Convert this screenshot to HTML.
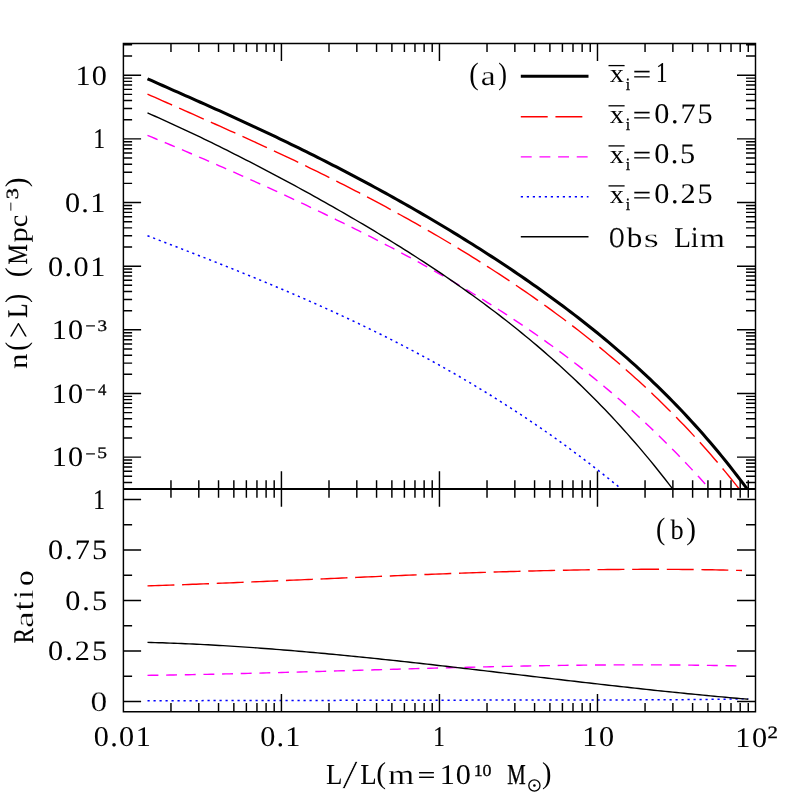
<!DOCTYPE html>
<html lang="en"><head><meta charset="utf-8"><title>n(&gt;L) vs L</title>
<style>html,body{margin:0;padding:0;background:#fff}svg{display:block}text{font-family:"Liberation Serif",serif}</style></head>
<body>
<svg width="797" height="797" viewBox="0 0 797 797">
<rect width="797" height="797" fill="#fff"/>
<g fill="none" stroke-linecap="butt" stroke-linejoin="round">
<path d="M147.50 235.76 L151.28 237.21 L155.06 238.66 L158.84 240.10 L162.61 241.55 L166.39 243.00 L170.17 244.46 L173.95 245.91 L177.73 247.37 L181.51 248.83 L185.29 250.29 L189.06 251.76 L192.84 253.22 L196.62 254.70 L200.40 256.17 L204.18 257.65 L207.96 259.13 L211.74 260.62 L215.52 262.11 L219.29 263.60 L223.07 265.10 L226.85 266.61 L230.63 268.12 L234.41 269.63 L238.19 271.15 L241.97 272.68 L245.74 274.21 L249.52 275.75 L253.30 277.29 L257.08 278.84 L260.86 280.40 L264.64 281.96 L268.42 283.53 L272.19 285.11 L275.97 286.69 L279.75 288.29 L283.53 289.89 L287.31 291.50 L291.09 293.11 L294.87 294.74 L298.64 296.37 L302.42 298.01 L306.20 299.67 L309.98 301.33 L313.76 303.00 L317.54 304.68 L321.32 306.37 L325.09 308.06 L328.87 309.77 L332.65 311.49 L336.43 313.23 L340.21 314.97 L343.99 316.72 L347.77 318.48 L351.55 320.26 L355.32 322.04 L359.10 323.84 L362.88 325.65 L366.66 327.48 L370.44 329.31 L374.22 331.16 L378.00 333.02 L381.77 334.89 L385.55 336.78 L389.33 338.68 L393.11 340.59 L396.89 342.52 L400.67 344.46 L404.45 346.41 L408.22 348.38 L412.00 350.37 L415.78 352.37 L419.56 354.38 L423.34 356.41 L427.12 358.45 L430.90 360.51 L434.67 362.59 L438.45 364.68 L442.23 366.79 L446.01 368.91 L449.79 371.05 L453.57 373.21 L457.35 375.38 L461.13 377.57 L464.90 379.78 L468.68 382.01 L472.46 384.25 L476.24 386.52 L480.02 388.80 L483.80 391.09 L487.58 393.41 L491.35 395.75 L495.13 398.10 L498.91 400.48 L502.69 402.87 L506.47 405.28 L510.25 407.71 L514.03 410.17 L517.80 412.64 L521.58 415.13 L525.36 417.64 L529.14 420.18 L532.92 422.73 L536.70 425.31 L540.48 427.91 L544.25 430.53 L548.03 433.17 L551.81 435.83 L555.59 438.51 L559.37 441.22 L563.15 443.95 L566.93 446.70 L570.71 449.48 L574.48 452.28 L578.26 455.10 L582.04 457.94 L585.82 460.81 L589.60 463.70 L593.38 466.62 L597.16 469.56 L600.93 472.53 L604.71 475.52 L608.49 478.53 L612.27 481.57 L616.05 484.64 L619.83 487.73 L621.31 488.95" stroke="#0000ff" stroke-width="1.5" stroke-dasharray="2.2 3.8"/>
<path d="M147.50 135.37 L151.28 136.93 L155.06 138.49 L158.84 140.05 L162.61 141.62 L166.39 143.19 L170.17 144.77 L173.95 146.36 L177.73 147.95 L181.51 149.55 L185.29 151.15 L189.06 152.75 L192.84 154.36 L196.62 155.98 L200.40 157.60 L204.18 159.23 L207.96 160.86 L211.74 162.50 L215.52 164.14 L219.29 165.79 L223.07 167.44 L226.85 169.10 L230.63 170.77 L234.41 172.43 L238.19 174.11 L241.97 175.79 L245.74 177.47 L249.52 179.16 L253.30 180.86 L257.08 182.56 L260.86 184.27 L264.64 185.98 L268.42 187.70 L272.19 189.43 L275.97 191.16 L279.75 192.89 L283.53 194.64 L287.31 196.39 L291.09 198.14 L294.87 199.90 L298.64 201.67 L302.42 203.45 L306.20 205.23 L309.98 207.02 L313.76 208.82 L317.54 210.62 L321.32 212.43 L325.09 214.25 L328.87 216.08 L332.65 217.91 L336.43 219.76 L340.21 221.61 L343.99 223.47 L347.77 225.33 L351.55 227.21 L355.32 229.10 L359.10 230.99 L362.88 232.89 L366.66 234.81 L370.44 236.73 L374.22 238.66 L378.00 240.61 L381.77 242.56 L385.55 244.53 L389.33 246.50 L393.11 248.49 L396.89 250.48 L400.67 252.49 L404.45 254.52 L408.22 256.55 L412.00 258.59 L415.78 260.65 L419.56 262.72 L423.34 264.81 L427.12 266.91 L430.90 269.02 L434.67 271.14 L438.45 273.28 L442.23 275.44 L446.01 277.61 L449.79 279.79 L453.57 281.99 L457.35 284.21 L461.13 286.44 L464.90 288.69 L468.68 290.95 L472.46 293.24 L476.24 295.54 L480.02 297.85 L483.80 300.19 L487.58 302.55 L491.35 304.92 L495.13 307.31 L498.91 309.73 L502.69 312.16 L506.47 314.61 L510.25 317.09 L514.03 319.58 L517.80 322.10 L521.58 324.64 L525.36 327.20 L529.14 329.78 L532.92 332.39 L536.70 335.02 L540.48 337.68 L544.25 340.36 L548.03 343.06 L551.81 345.79 L555.59 348.55 L559.37 351.33 L563.15 354.14 L566.93 356.98 L570.71 359.84 L574.48 362.73 L578.26 365.66 L582.04 368.61 L585.82 371.59 L589.60 374.60 L593.38 377.64 L597.16 380.71 L600.93 383.81 L604.71 386.94 L608.49 390.11 L612.27 393.31 L616.05 396.55 L619.83 399.82 L623.61 403.12 L627.38 406.46 L631.16 409.83 L634.94 413.24 L638.72 416.69 L642.50 420.17 L646.28 423.70 L650.06 427.26 L653.83 430.86 L657.61 434.50 L661.39 438.18 L665.17 441.90 L668.95 445.66 L672.73 449.46 L676.51 453.31 L680.28 457.20 L684.06 461.14 L687.84 465.11 L691.62 469.14 L695.40 473.21 L699.18 477.32 L702.96 481.49 L706.74 485.70 L709.62 488.95" stroke="#ff00ff" stroke-width="1.4" stroke-dasharray="10.9 7.75"/>
<path d="M147.50 112.92 L151.28 114.58 L155.06 116.24 L158.84 117.92 L162.61 119.62 L166.39 121.32 L170.17 123.04 L173.95 124.78 L177.73 126.52 L181.51 128.28 L185.29 130.05 L189.06 131.83 L192.84 133.62 L196.62 135.42 L200.40 137.23 L204.18 139.06 L207.96 140.89 L211.74 142.74 L215.52 144.59 L219.29 146.46 L223.07 148.33 L226.85 150.22 L230.63 152.11 L234.41 154.01 L238.19 155.93 L241.97 157.85 L245.74 159.78 L249.52 161.72 L253.30 163.67 L257.08 165.63 L260.86 167.60 L264.64 169.57 L268.42 171.56 L272.19 173.55 L275.97 175.56 L279.75 177.57 L283.53 179.59 L287.31 181.62 L291.09 183.66 L294.87 185.70 L298.64 187.76 L302.42 189.83 L306.20 191.90 L309.98 193.98 L313.76 196.08 L317.54 198.18 L321.32 200.29 L325.09 202.42 L328.87 204.55 L332.65 206.69 L336.43 208.84 L340.21 211.01 L343.99 213.18 L347.77 215.36 L351.55 217.56 L355.32 219.76 L359.10 221.98 L362.88 224.21 L366.66 226.45 L370.44 228.70 L374.22 230.97 L378.00 233.24 L381.77 235.53 L385.55 237.84 L389.33 240.15 L393.11 242.49 L396.89 244.83 L400.67 247.19 L404.45 249.56 L408.22 251.95 L412.00 254.36 L415.78 256.78 L419.56 259.22 L423.34 261.67 L427.12 264.14 L430.90 266.63 L434.67 269.13 L438.45 271.66 L442.23 274.20 L446.01 276.76 L449.79 279.34 L453.57 281.95 L457.35 284.57 L461.13 287.21 L464.90 289.88 L468.68 292.57 L472.46 295.28 L476.24 298.01 L480.02 300.77 L483.80 303.55 L487.58 306.36 L491.35 309.19 L495.13 312.05 L498.91 314.93 L502.69 317.85 L506.47 320.79 L510.25 323.76 L514.03 326.76 L517.80 329.78 L521.58 332.84 L525.36 335.93 L529.14 339.05 L532.92 342.21 L536.70 345.40 L540.48 348.62 L544.25 351.87 L548.03 355.17 L551.81 358.49 L555.59 361.86 L559.37 365.26 L563.15 368.70 L566.93 372.18 L570.71 375.70 L574.48 379.26 L578.26 382.87 L582.04 386.51 L585.82 390.20 L589.60 393.94 L593.38 397.71 L597.16 401.54 L600.93 405.41 L604.71 409.33 L608.49 413.29 L612.27 417.31 L616.05 421.38 L619.83 425.50 L623.61 429.67 L627.38 433.89 L631.16 438.17 L634.94 442.50 L638.72 446.89 L642.50 451.34 L646.28 455.84 L650.06 460.40 L653.83 465.03 L657.61 469.71 L661.39 474.46 L665.17 479.27 L668.95 484.14 L672.62 488.95" stroke="#000" stroke-width="1.4"/>
<path d="M147.50 94.10 L151.28 95.78 L155.06 97.46 L158.84 99.14 L162.61 100.81 L166.39 102.49 L170.17 104.16 L173.95 105.83 L177.73 107.50 L181.51 109.17 L185.29 110.84 L189.06 112.51 L192.84 114.18 L196.62 115.85 L200.40 117.53 L204.18 119.20 L207.96 120.88 L211.74 122.56 L215.52 124.25 L219.29 125.93 L223.07 127.62 L226.85 129.32 L230.63 131.02 L234.41 132.72 L238.19 134.43 L241.97 136.14 L245.74 137.85 L249.52 139.58 L253.30 141.30 L257.08 143.04 L260.86 144.78 L264.64 146.52 L268.42 148.28 L272.19 150.04 L275.97 151.80 L279.75 153.57 L283.53 155.35 L287.31 157.14 L291.09 158.94 L294.87 160.74 L298.64 162.55 L302.42 164.37 L306.20 166.20 L309.98 168.03 L313.76 169.88 L317.54 171.73 L321.32 173.59 L325.09 175.46 L328.87 177.34 L332.65 179.23 L336.43 181.13 L340.21 183.04 L343.99 184.96 L347.77 186.88 L351.55 188.82 L355.32 190.77 L359.10 192.73 L362.88 194.70 L366.66 196.68 L370.44 198.67 L374.22 200.67 L378.00 202.68 L381.77 204.71 L385.55 206.74 L389.33 208.79 L393.11 210.85 L396.89 212.92 L400.67 215.00 L404.45 217.09 L408.22 219.20 L412.00 221.32 L415.78 223.45 L419.56 225.59 L423.34 227.75 L427.12 229.92 L430.90 232.11 L434.67 234.30 L438.45 236.51 L442.23 238.74 L446.01 240.98 L449.79 243.23 L453.57 245.50 L457.35 247.78 L461.13 250.08 L464.90 252.39 L468.68 254.72 L472.46 257.06 L476.24 259.42 L480.02 261.80 L483.80 264.19 L487.58 266.60 L491.35 269.02 L495.13 271.47 L498.91 273.93 L502.69 276.41 L506.47 278.90 L510.25 281.42 L514.03 283.95 L517.80 286.51 L521.58 289.08 L525.36 291.67 L529.14 294.29 L532.92 296.92 L536.70 299.58 L540.48 302.26 L544.25 304.96 L548.03 307.68 L551.81 310.42 L555.59 313.19 L559.37 315.98 L563.15 318.80 L566.93 321.64 L570.71 324.50 L574.48 327.40 L578.26 330.31 L582.04 333.26 L585.82 336.23 L589.60 339.23 L593.38 342.26 L597.16 345.32 L600.93 348.41 L604.71 351.53 L608.49 354.68 L612.27 357.86 L616.05 361.07 L619.83 364.32 L623.61 367.60 L627.38 370.92 L631.16 374.27 L634.94 377.66 L638.72 381.08 L642.50 384.54 L646.28 388.04 L650.06 391.58 L653.83 395.16 L657.61 398.78 L661.39 402.45 L665.17 406.15 L668.95 409.90 L672.73 413.70 L676.51 417.54 L680.28 421.43 L684.06 425.36 L687.84 429.34 L691.62 433.38 L695.40 437.46 L699.18 441.60 L702.96 445.79 L706.74 450.03 L710.51 454.33 L714.29 458.69 L718.07 463.10 L721.85 467.58 L725.63 472.11 L729.41 476.70 L733.19 481.36 L736.96 486.08 L739.23 488.95" stroke="#ff0000" stroke-width="1.4" stroke-dasharray="26.9 7.74"/>
<path d="M147.50 78.80 L151.28 80.48 L155.06 82.16 L158.84 83.83 L162.61 85.50 L166.39 87.18 L170.17 88.85 L173.95 90.52 L177.73 92.19 L181.51 93.86 L185.29 95.54 L189.06 97.22 L192.84 98.89 L196.62 100.57 L200.40 102.26 L204.18 103.94 L207.96 105.63 L211.74 107.33 L215.52 109.03 L219.29 110.73 L223.07 112.44 L226.85 114.15 L230.63 115.87 L234.41 117.59 L238.19 119.32 L241.97 121.06 L245.74 122.80 L249.52 124.55 L253.30 126.30 L257.08 128.07 L260.86 129.84 L264.64 131.61 L268.42 133.40 L272.19 135.19 L275.97 136.99 L279.75 138.80 L283.53 140.61 L287.31 142.44 L291.09 144.27 L294.87 146.11 L298.64 147.96 L302.42 149.82 L306.20 151.69 L309.98 153.57 L313.76 155.45 L317.54 157.35 L321.32 159.25 L325.09 161.17 L328.87 163.09 L332.65 165.03 L336.43 166.97 L340.21 168.92 L343.99 170.89 L347.77 172.86 L351.55 174.85 L355.32 176.84 L359.10 178.84 L362.88 180.86 L366.66 182.88 L370.44 184.92 L374.22 186.97 L378.00 189.02 L381.77 191.09 L385.55 193.17 L389.33 195.26 L393.11 197.36 L396.89 199.48 L400.67 201.60 L404.45 203.74 L408.22 205.88 L412.00 208.04 L415.78 210.21 L419.56 212.40 L423.34 214.59 L427.12 216.80 L430.90 219.02 L434.67 221.25 L438.45 223.49 L442.23 225.75 L446.01 228.02 L449.79 230.31 L453.57 232.60 L457.35 234.92 L461.13 237.24 L464.90 239.58 L468.68 241.93 L472.46 244.30 L476.24 246.68 L480.02 249.08 L483.80 251.49 L487.58 253.92 L491.35 256.37 L495.13 258.83 L498.91 261.30 L502.69 263.80 L506.47 266.31 L510.25 268.84 L514.03 271.38 L517.80 273.95 L521.58 276.53 L525.36 279.13 L529.14 281.75 L532.92 284.39 L536.70 287.05 L540.48 289.73 L544.25 292.44 L548.03 295.16 L551.81 297.91 L555.59 300.68 L559.37 303.47 L563.15 306.29 L566.93 309.13 L570.71 311.99 L574.48 314.88 L578.26 317.80 L582.04 320.74 L585.82 323.72 L589.60 326.72 L593.38 329.74 L597.16 332.80 L600.93 335.89 L604.71 339.01 L608.49 342.16 L612.27 345.35 L616.05 348.57 L619.83 351.82 L623.61 355.11 L627.38 358.43 L631.16 361.79 L634.94 365.19 L638.72 368.63 L642.50 372.10 L646.28 375.62 L650.06 379.18 L653.83 382.79 L657.61 386.44 L661.39 390.13 L665.17 393.87 L668.95 397.66 L672.73 401.49 L676.51 405.38 L680.28 409.32 L684.06 413.31 L687.84 417.35 L691.62 421.45 L695.40 425.61 L699.18 429.82 L702.96 434.09 L706.74 438.43 L710.51 442.82 L714.29 447.28 L718.07 451.81 L721.85 456.40 L725.63 461.06 L729.41 465.79 L733.19 470.59 L736.96 475.46 L740.74 480.41 L744.52 485.44 L747.12 488.95" stroke="#000" stroke-width="3.05"/>
<path d="M147.50 700.71 L151.28 700.70 L155.06 700.70 L158.84 700.69 L162.61 700.69 L166.39 700.68 L170.17 700.67 L173.95 700.67 L177.73 700.66 L181.51 700.66 L185.29 700.65 L189.06 700.65 L192.84 700.64 L196.62 700.63 L200.40 700.63 L204.18 700.62 L207.96 700.62 L211.74 700.61 L215.52 700.61 L219.29 700.60 L223.07 700.59 L226.85 700.59 L230.63 700.58 L234.41 700.57 L238.19 700.57 L241.97 700.56 L245.74 700.56 L249.52 700.55 L253.30 700.54 L257.08 700.54 L260.86 700.53 L264.64 700.52 L268.42 700.52 L272.19 700.51 L275.97 700.50 L279.75 700.50 L283.53 700.49 L287.31 700.48 L291.09 700.47 L294.87 700.47 L298.64 700.46 L302.42 700.45 L306.20 700.44 L309.98 700.44 L313.76 700.43 L317.54 700.42 L321.32 700.41 L325.09 700.41 L328.87 700.40 L332.65 700.39 L336.43 700.38 L340.21 700.37 L343.99 700.37 L347.77 700.36 L351.55 700.35 L355.32 700.34 L359.10 700.34 L362.88 700.33 L366.66 700.32 L370.44 700.31 L374.22 700.30 L378.00 700.30 L381.77 700.29 L385.55 700.28 L389.33 700.27 L393.11 700.26 L396.89 700.26 L400.67 700.25 L404.45 700.24 L408.22 700.23 L412.00 700.23 L415.78 700.22 L419.56 700.21 L423.34 700.21 L427.12 700.20 L430.90 700.19 L434.67 700.18 L438.45 700.18 L442.23 700.17 L446.01 700.16 L449.79 700.16 L453.57 700.15 L457.35 700.15 L461.13 700.14 L464.90 700.13 L468.68 700.13 L472.46 700.12 L476.24 700.12 L480.02 700.11 L483.80 700.11 L487.58 700.10 L491.35 700.10 L495.13 700.09 L498.91 700.09 L502.69 700.08 L506.47 700.08 L510.25 700.07 L514.03 700.07 L517.80 700.06 L521.58 700.06 L525.36 700.05 L529.14 700.05 L532.92 700.05 L536.70 700.04 L540.48 700.04 L544.25 700.03 L548.03 700.03 L551.81 700.02 L555.59 700.02 L559.37 700.02 L563.15 700.01 L566.93 700.01 L570.71 700.00 L574.48 700.00 L578.26 699.99 L582.04 699.99 L585.82 699.98 L589.60 699.98 L593.38 699.97 L597.16 699.97 L600.93 699.96 L604.71 699.95 L608.49 699.95 L612.27 699.94 L616.05 699.93 L619.83 699.92 L623.61 699.91 L627.38 699.90 L631.16 699.89 L634.94 699.88 L638.72 699.87 L642.50 699.86 L646.28 699.84 L650.06 699.83 L653.83 699.81 L657.61 699.79 L661.39 699.78 L665.17 699.76 L668.95 699.74 L672.73 699.71 L676.51 699.69 L680.28 699.67 L684.06 699.64 L687.84 699.61 L691.62 699.58 L695.40 699.54 L699.18 699.51 L702.96 699.47 L706.74 699.42 L710.51 699.38 L714.29 699.33 L718.07 699.27 L721.85 699.22 L725.63 699.16 L729.41 699.09 L733.19 699.02 L736.96 698.94 L740.74 698.85 L744.52 698.76 L748.30 698.66" stroke="#0000ff" stroke-width="1.5" stroke-dasharray="2.2 3.8"/>
<path d="M147.50 675.38 L151.23 675.32 L154.95 675.27 L158.68 675.22 L162.41 675.16 L166.13 675.10 L169.86 675.04 L173.58 674.97 L177.31 674.91 L181.04 674.84 L184.76 674.77 L188.49 674.70 L192.22 674.63 L195.94 674.56 L199.67 674.48 L203.40 674.40 L207.12 674.33 L210.85 674.25 L214.58 674.17 L218.30 674.08 L222.03 674.00 L225.75 673.91 L229.48 673.83 L233.21 673.74 L236.93 673.65 L240.66 673.56 L244.39 673.47 L248.11 673.37 L251.84 673.28 L255.57 673.19 L259.29 673.09 L263.02 672.99 L266.75 672.90 L270.47 672.80 L274.20 672.70 L277.92 672.60 L281.65 672.50 L285.38 672.39 L289.10 672.29 L292.83 672.19 L296.56 672.08 L300.28 671.98 L304.01 671.87 L307.74 671.77 L311.46 671.66 L315.19 671.56 L318.92 671.45 L322.64 671.34 L326.37 671.23 L330.09 671.13 L333.82 671.02 L337.55 670.91 L341.27 670.80 L345.00 670.69 L348.73 670.58 L352.45 670.48 L356.18 670.37 L359.91 670.26 L363.63 670.15 L367.36 670.04 L371.08 669.93 L374.81 669.82 L378.54 669.71 L382.26 669.61 L385.99 669.50 L389.72 669.39 L393.44 669.28 L397.17 669.18 L400.90 669.07 L404.62 668.96 L408.35 668.86 L412.08 668.75 L415.80 668.65 L419.53 668.55 L423.25 668.44 L426.98 668.34 L430.71 668.24 L434.43 668.14 L438.16 668.04 L441.89 667.94 L445.61 667.84 L449.34 667.74 L453.07 667.65 L456.79 667.55 L460.52 667.46 L464.25 667.36 L467.97 667.27 L471.70 667.18 L475.42 667.09 L479.15 667.00 L482.88 666.91 L486.60 666.83 L490.33 666.74 L494.06 666.66 L497.78 666.57 L501.51 666.49 L505.24 666.41 L508.96 666.34 L512.69 666.26 L516.42 666.18 L520.14 666.11 L523.87 666.04 L527.59 665.97 L531.32 665.90 L535.05 665.83 L538.77 665.77 L542.50 665.71 L546.23 665.65 L549.95 665.59 L553.68 665.53 L557.41 665.47 L561.13 665.42 L564.86 665.37 L568.58 665.32 L572.31 665.28 L576.04 665.23 L579.76 665.19 L583.49 665.15 L587.22 665.11 L590.94 665.07 L594.67 665.04 L598.40 665.01 L602.12 664.98 L605.85 664.96 L609.58 664.93 L613.30 664.91 L617.03 664.89 L620.75 664.88 L624.48 664.87 L628.21 664.86 L631.93 664.85 L635.66 664.84 L639.39 664.84 L643.11 664.84 L646.84 664.85 L650.57 664.85 L654.29 664.86 L658.02 664.88 L661.75 664.89 L665.47 664.91 L669.20 664.93 L672.92 664.96 L676.65 664.99 L680.38 665.02 L684.10 665.05 L687.83 665.09 L691.56 665.13 L695.28 665.18 L699.01 665.23 L702.74 665.28 L706.46 665.33 L710.19 665.39 L713.92 665.45 L717.64 665.52 L721.37 665.59 L725.09 665.66 L728.82 665.74 L732.55 665.82 L736.27 665.91 L740.00 665.99" stroke="#ff00ff" stroke-width="1.4" stroke-dasharray="10.9 7.75"/>
<path d="M147.50 642.37 L151.28 642.47 L155.06 642.58 L158.84 642.70 L162.61 642.82 L166.39 642.96 L170.17 643.09 L173.95 643.24 L177.73 643.39 L181.51 643.54 L185.29 643.71 L189.06 643.88 L192.84 644.05 L196.62 644.23 L200.40 644.42 L204.18 644.62 L207.96 644.82 L211.74 645.02 L215.52 645.23 L219.29 645.45 L223.07 645.67 L226.85 645.90 L230.63 646.14 L234.41 646.38 L238.19 646.62 L241.97 646.87 L245.74 647.13 L249.52 647.39 L253.30 647.65 L257.08 647.92 L260.86 648.20 L264.64 648.48 L268.42 648.77 L272.19 649.06 L275.97 649.35 L279.75 649.65 L283.53 649.95 L287.31 650.26 L291.09 650.57 L294.87 650.89 L298.64 651.21 L302.42 651.54 L306.20 651.87 L309.98 652.20 L313.76 652.54 L317.54 652.88 L321.32 653.23 L325.09 653.57 L328.87 653.93 L332.65 654.28 L336.43 654.64 L340.21 655.01 L343.99 655.37 L347.77 655.74 L351.55 656.12 L355.32 656.49 L359.10 656.87 L362.88 657.25 L366.66 657.64 L370.44 658.03 L374.22 658.42 L378.00 658.81 L381.77 659.21 L385.55 659.61 L389.33 660.01 L393.11 660.41 L396.89 660.82 L400.67 661.23 L404.45 661.64 L408.22 662.05 L412.00 662.47 L415.78 662.89 L419.56 663.30 L423.34 663.73 L427.12 664.15 L430.90 664.57 L434.67 665.00 L438.45 665.43 L442.23 665.86 L446.01 666.29 L449.79 666.72 L453.57 667.15 L457.35 667.59 L461.13 668.03 L464.90 668.46 L468.68 668.90 L472.46 669.34 L476.24 669.78 L480.02 670.22 L483.80 670.66 L487.58 671.11 L491.35 671.55 L495.13 671.99 L498.91 672.44 L502.69 672.88 L506.47 673.33 L510.25 673.77 L514.03 674.22 L517.80 674.66 L521.58 675.11 L525.36 675.55 L529.14 676.00 L532.92 676.44 L536.70 676.89 L540.48 677.33 L544.25 677.78 L548.03 678.22 L551.81 678.67 L555.59 679.11 L559.37 679.55 L563.15 679.99 L566.93 680.43 L570.71 680.87 L574.48 681.31 L578.26 681.75 L582.04 682.18 L585.82 682.62 L589.60 683.05 L593.38 683.49 L597.16 683.92 L600.93 684.35 L604.71 684.78 L608.49 685.20 L612.27 685.63 L616.05 686.05 L619.83 686.47 L623.61 686.89 L627.38 687.31 L631.16 687.73 L634.94 688.14 L638.72 688.55 L642.50 688.96 L646.28 689.37 L650.06 689.78 L653.83 690.18 L657.61 690.58 L661.39 690.97 L665.17 691.37 L668.95 691.76 L672.73 692.15 L676.51 692.54 L680.28 692.92 L684.06 693.30 L687.84 693.68 L691.62 694.05 L695.40 694.42 L699.18 694.79 L702.96 695.15 L706.74 695.51 L710.51 695.87 L714.29 696.23 L718.07 696.58 L721.85 696.92 L725.63 697.26 L729.41 697.60 L733.19 697.94 L736.96 698.27 L740.74 698.60 L744.52 698.92 L748.30 699.24" stroke="#000" stroke-width="1.4"/>
<path d="M147.50 585.88 L151.24 585.76 L154.98 585.64 L158.72 585.52 L162.46 585.39 L166.19 585.26 L169.93 585.13 L173.67 585.00 L177.41 584.87 L181.15 584.73 L184.89 584.59 L188.63 584.46 L192.37 584.32 L196.11 584.18 L199.85 584.03 L203.58 583.89 L207.32 583.75 L211.06 583.60 L214.80 583.45 L218.54 583.30 L222.28 583.15 L226.02 583.00 L229.76 582.85 L233.50 582.70 L237.24 582.55 L240.97 582.39 L244.71 582.24 L248.45 582.08 L252.19 581.92 L255.93 581.77 L259.67 581.61 L263.41 581.45 L267.15 581.29 L270.89 581.13 L274.63 580.97 L278.36 580.81 L282.10 580.64 L285.84 580.48 L289.58 580.32 L293.32 580.16 L297.06 579.99 L300.80 579.83 L304.54 579.67 L308.28 579.50 L312.02 579.34 L315.75 579.18 L319.49 579.01 L323.23 578.85 L326.97 578.68 L330.71 578.52 L334.45 578.36 L338.19 578.19 L341.93 578.03 L345.67 577.87 L349.41 577.70 L353.14 577.54 L356.88 577.38 L360.62 577.22 L364.36 577.06 L368.10 576.89 L371.84 576.73 L375.58 576.58 L379.32 576.42 L383.06 576.26 L386.80 576.10 L390.53 575.94 L394.27 575.79 L398.01 575.63 L401.75 575.48 L405.49 575.32 L409.23 575.17 L412.97 575.02 L416.71 574.87 L420.45 574.72 L424.19 574.57 L427.92 574.43 L431.66 574.28 L435.40 574.13 L439.14 573.99 L442.88 573.85 L446.62 573.71 L450.36 573.57 L454.10 573.43 L457.84 573.30 L461.58 573.16 L465.31 573.03 L469.05 572.90 L472.79 572.77 L476.53 572.64 L480.27 572.51 L484.01 572.39 L487.75 572.26 L491.49 572.14 L495.23 572.02 L498.97 571.91 L502.70 571.79 L506.44 571.68 L510.18 571.57 L513.92 571.46 L517.66 571.35 L521.40 571.25 L525.14 571.15 L528.88 571.05 L532.62 570.95 L536.36 570.85 L540.09 570.76 L543.83 570.67 L547.57 570.58 L551.31 570.50 L555.05 570.41 L558.79 570.33 L562.53 570.26 L566.27 570.18 L570.01 570.11 L573.75 570.04 L577.48 569.97 L581.22 569.91 L584.96 569.85 L588.70 569.79 L592.44 569.74 L596.18 569.69 L599.92 569.64 L603.66 569.59 L607.40 569.55 L611.14 569.51 L614.87 569.47 L618.61 569.44 L622.35 569.41 L626.09 569.39 L629.83 569.36 L633.57 569.35 L637.31 569.33 L641.05 569.32 L644.79 569.31 L648.53 569.30 L652.26 569.30 L656.00 569.31 L659.74 569.31 L663.48 569.32 L667.22 569.34 L670.96 569.35 L674.70 569.38 L678.44 569.40 L682.18 569.43 L685.92 569.46 L689.65 569.50 L693.39 569.54 L697.13 569.59 L700.87 569.64 L704.61 569.69 L708.35 569.75 L712.09 569.82 L715.83 569.88 L719.57 569.96 L723.31 570.03 L727.04 570.11 L730.78 570.20 L734.52 570.29 L738.26 570.38 L742.00 570.48" stroke="#ff0000" stroke-width="1.4" stroke-dasharray="26.9 7.74"/>
<path d="M520.8 76.3H588.5" stroke="#000" stroke-width="3.05"/>
<path d="M520.8 116.7H588.5" stroke="#ff0000" stroke-width="1.4" stroke-dasharray="26.9 7.74"/>
<path d="M520.8 156.9H588.5" stroke="#ff00ff" stroke-width="1.4" stroke-dasharray="10.9 7.75"/>
<path d="M520.8 196.8H588.5" stroke="#0000ff" stroke-width="1.5" stroke-dasharray="2.2 3.8"/>
<path d="M520.8 236.8H588.5" stroke="#000" stroke-width="1.4"/>
</g>
<path d="M123.40 488.95H755.50" stroke="#000" stroke-width="1.9"/>
<path d="M123.40 43.40H755.50V711.70H123.40ZM170.97 43.40v8.70M170.97 480.25v17.40M170.97 711.70v-8.70M198.80 43.40v8.70M198.80 480.25v17.40M198.80 711.70v-8.70M218.54 43.40v8.70M218.54 480.25v17.40M218.54 711.70v-8.70M233.85 43.40v8.70M233.85 480.25v17.40M233.85 711.70v-8.70M246.37 43.40v8.70M246.37 480.25v17.40M246.37 711.70v-8.70M256.95 43.40v8.70M256.95 480.25v17.40M256.95 711.70v-8.70M266.11 43.40v8.70M266.11 480.25v17.40M266.11 711.70v-8.70M274.19 43.40v8.70M274.19 480.25v17.40M274.19 711.70v-8.70M281.43 43.40v17.70M281.43 471.25v35.40M281.43 711.70v-17.70M329.00 43.40v8.70M329.00 480.25v17.40M329.00 711.70v-8.70M356.82 43.40v8.70M356.82 480.25v17.40M356.82 711.70v-8.70M376.57 43.40v8.70M376.57 480.25v17.40M376.57 711.70v-8.70M391.88 43.40v8.70M391.88 480.25v17.40M391.88 711.70v-8.70M404.39 43.40v8.70M404.39 480.25v17.40M404.39 711.70v-8.70M414.97 43.40v8.70M414.97 480.25v17.40M414.97 711.70v-8.70M424.14 43.40v8.70M424.14 480.25v17.40M424.14 711.70v-8.70M432.22 43.40v8.70M432.22 480.25v17.40M432.22 711.70v-8.70M439.45 43.40v17.70M439.45 471.25v35.40M439.45 711.70v-17.70M487.02 43.40v8.70M487.02 480.25v17.40M487.02 711.70v-8.70M514.85 43.40v8.70M514.85 480.25v17.40M514.85 711.70v-8.70M534.59 43.40v8.70M534.59 480.25v17.40M534.59 711.70v-8.70M549.90 43.40v8.70M549.90 480.25v17.40M549.90 711.70v-8.70M562.42 43.40v8.70M562.42 480.25v17.40M562.42 711.70v-8.70M573.00 43.40v8.70M573.00 480.25v17.40M573.00 711.70v-8.70M582.16 43.40v8.70M582.16 480.25v17.40M582.16 711.70v-8.70M590.24 43.40v8.70M590.24 480.25v17.40M590.24 711.70v-8.70M597.48 43.40v17.70M597.48 471.25v35.40M597.48 711.70v-17.70M645.05 43.40v8.70M645.05 480.25v17.40M645.05 711.70v-8.70M672.87 43.40v8.70M672.87 480.25v17.40M672.87 711.70v-8.70M692.62 43.40v8.70M692.62 480.25v17.40M692.62 711.70v-8.70M707.93 43.40v8.70M707.93 480.25v17.40M707.93 711.70v-8.70M720.44 43.40v8.70M720.44 480.25v17.40M720.44 711.70v-8.70M731.02 43.40v8.70M731.02 480.25v17.40M731.02 711.70v-8.70M740.19 43.40v8.70M740.19 480.25v17.40M740.19 711.70v-8.70M748.27 43.40v8.70M748.27 480.25v17.40M748.27 711.70v-8.70M123.40 482.45h8.70M755.50 482.45h-9.50M123.40 476.29h8.70M755.50 476.29h-9.50M123.40 471.25h8.70M755.50 471.25h-9.50M123.40 466.98h8.70M755.50 466.98h-9.50M123.40 463.29h8.70M755.50 463.29h-9.50M123.40 460.04h8.70M755.50 460.04h-9.50M123.40 457.12h17.70M755.50 457.12h-18.50M123.40 437.96h8.70M755.50 437.96h-9.50M123.40 426.76h8.70M755.50 426.76h-9.50M123.40 418.80h8.70M755.50 418.80h-9.50M123.40 412.64h8.70M755.50 412.64h-9.50M123.40 407.60h8.70M755.50 407.60h-9.50M123.40 403.33h8.70M755.50 403.33h-9.50M123.40 399.64h8.70M755.50 399.64h-9.50M123.40 396.39h8.70M755.50 396.39h-9.50M123.40 393.47h17.70M755.50 393.47h-18.50M123.40 374.31h8.70M755.50 374.31h-9.50M123.40 363.11h8.70M755.50 363.11h-9.50M123.40 355.15h8.70M755.50 355.15h-9.50M123.40 348.99h8.70M755.50 348.99h-9.50M123.40 343.95h8.70M755.50 343.95h-9.50M123.40 339.68h8.70M755.50 339.68h-9.50M123.40 335.99h8.70M755.50 335.99h-9.50M123.40 332.74h8.70M755.50 332.74h-9.50M123.40 329.82h17.70M755.50 329.82h-18.50M123.40 310.66h8.70M755.50 310.66h-9.50M123.40 299.46h8.70M755.50 299.46h-9.50M123.40 291.50h8.70M755.50 291.50h-9.50M123.40 285.34h8.70M755.50 285.34h-9.50M123.40 280.30h8.70M755.50 280.30h-9.50M123.40 276.03h8.70M755.50 276.03h-9.50M123.40 272.34h8.70M755.50 272.34h-9.50M123.40 269.09h8.70M755.50 269.09h-9.50M123.40 266.18h17.70M755.50 266.18h-18.50M123.40 247.01h8.70M755.50 247.01h-9.50M123.40 235.81h8.70M755.50 235.81h-9.50M123.40 227.85h8.70M755.50 227.85h-9.50M123.40 221.69h8.70M755.50 221.69h-9.50M123.40 216.65h8.70M755.50 216.65h-9.50M123.40 212.38h8.70M755.50 212.38h-9.50M123.40 208.69h8.70M755.50 208.69h-9.50M123.40 205.44h8.70M755.50 205.44h-9.50M123.40 202.53h17.70M755.50 202.53h-18.50M123.40 183.36h8.70M755.50 183.36h-9.50M123.40 172.16h8.70M755.50 172.16h-9.50M123.40 164.20h8.70M755.50 164.20h-9.50M123.40 158.04h8.70M755.50 158.04h-9.50M123.40 153.00h8.70M755.50 153.00h-9.50M123.40 148.73h8.70M755.50 148.73h-9.50M123.40 145.04h8.70M755.50 145.04h-9.50M123.40 141.79h8.70M755.50 141.79h-9.50M123.40 138.88h17.70M755.50 138.88h-18.50M123.40 119.71h8.70M755.50 119.71h-9.50M123.40 108.51h8.70M755.50 108.51h-9.50M123.40 100.55h8.70M755.50 100.55h-9.50M123.40 94.39h8.70M755.50 94.39h-9.50M123.40 89.35h8.70M755.50 89.35h-9.50M123.40 85.08h8.70M755.50 85.08h-9.50M123.40 81.39h8.70M755.50 81.39h-9.50M123.40 78.14h8.70M755.50 78.14h-9.50M123.40 75.22h17.70M755.50 75.22h-18.50M123.40 56.06h8.70M755.50 56.06h-9.50M123.40 44.86h8.70M755.50 44.86h-9.50M123.40 701.40h17.70M755.50 701.40h-18.50M123.40 676.16h8.70M755.50 676.16h-9.50M123.40 650.91h17.70M755.50 650.91h-18.50M123.40 625.67h8.70M755.50 625.67h-9.50M123.40 600.42h17.70M755.50 600.42h-18.50M123.40 575.18h8.70M755.50 575.18h-9.50M123.40 549.94h17.70M755.50 549.94h-18.50M123.40 524.69h8.70M755.50 524.69h-9.50M123.40 499.45h17.70M755.50 499.45h-18.50" fill="none" stroke="#000" stroke-width="1.45" stroke-linecap="butt" stroke-linejoin="miter"/>
<g font-family="&quot;Liberation Serif&quot;, serif" fill="#000" text-rendering="geometricPrecision" opacity="0.999">
<g id="th">
<text transform="translate(75.53 84.58) scale(1.1200 1.0415)" font-size="27" letter-spacing="0.885">10</text>
<text transform="translate(93.39 148.22) scale(0.8466 1.0494)" font-size="27" stroke="#000" stroke-width="0.23">1</text>
<text transform="translate(65.04 211.88) scale(1.1200 1.0415)" font-size="27" letter-spacing="1.082">0.1</text>
<text transform="translate(47.94 275.52) scale(1.1200 1.0415)" font-size="27" letter-spacing="1.311">0.01</text>
<text transform="translate(51.83 339.17) scale(1.1200 1.0415)" font-size="27" letter-spacing="0.885">10</text>
<text transform="translate(85.21 334.45) scale(0.6930 0.9053)" font-size="27" stroke="#000" stroke-width="0.2">−</text>
<text transform="translate(97.40 330.87) scale(1.1530 0.9734)" font-size="16.5" stroke="#000" stroke-width="0.3">3</text>
<text transform="translate(51.83 402.82) scale(1.1200 1.0415)" font-size="27" letter-spacing="0.885">10</text>
<text transform="translate(85.21 398.10) scale(0.6930 0.9053)" font-size="27" stroke="#000" stroke-width="0.2">−</text>
<text transform="translate(98.01 394.52) scale(1.0166 0.9734)" font-size="16.5" stroke="#000" stroke-width="0.3">4</text>
<text transform="translate(51.83 466.47) scale(1.1200 1.0415)" font-size="27" letter-spacing="0.885">10</text>
<text transform="translate(85.21 461.75) scale(0.6930 0.9053)" font-size="27" stroke="#000" stroke-width="0.2">−</text>
<text transform="translate(97.18 458.17) scale(1.1818 0.9808)" font-size="16.5" stroke="#000" stroke-width="0.3">5</text>
<text transform="translate(93.14 508.80) scale(0.8677 1.0494)" font-size="27" stroke="#000" stroke-width="0.20">1</text>
<text transform="translate(47.94 559.29) scale(1.1200 1.0415)" font-size="27" letter-spacing="1.875">0.75</text>
<text transform="translate(65.14 609.77) scale(1.1200 1.0415)" font-size="27" letter-spacing="1.884">0.5</text>
<text transform="translate(47.94 660.26) scale(1.1200 1.0415)" font-size="27" letter-spacing="1.875">0.25</text>
<text transform="translate(90.51 710.75) scale(1.2434 1.0415)" font-size="27" stroke="#fff" stroke-width="0.20">0</text>
<text transform="translate(93.64 745.55) scale(1.1200 1.0582)" font-size="27" letter-spacing="1.251">0.01</text>
<text transform="translate(260.14 745.55) scale(1.1200 1.0582)" font-size="27" letter-spacing="1.082">0.1</text>
<text transform="translate(433.27 745.55) scale(0.8571 1.0662)" font-size="27" stroke="#000" stroke-width="0.21">1</text>
<text transform="translate(582.23 745.55) scale(1.1200 1.0582)" font-size="27" letter-spacing="1.421">10</text>
<text transform="translate(735.23 746.75) scale(1.1200 1.0471)" font-size="27" letter-spacing="1.421">10</text>
<text transform="translate(767.62 738.25) scale(1.2576 1.0468)" font-size="16.5" stroke="#000" stroke-width="0.3">2</text>
<text transform="translate(326.04 783.95) scale(0.9972 1.0687)" font-size="27">L</text>
<text transform="translate(342.35 788.45) scale(2.1010 1.4981)" font-size="27" stroke="#fff" stroke-width="0.40">/</text>
<text transform="translate(360.34 783.95) scale(0.9972 1.0687)" font-size="27">L</text>
<text transform="translate(376.13 782.53) scale(1.0893 1.1152)" font-size="27">(</text>
<text transform="translate(388.19 783.95) scale(1.2312 1.0402)" font-size="27" stroke="#fff" stroke-width="0.18">m</text>
<text transform="translate(417.46 783.11) scale(1.1788 0.8919)" font-size="27" stroke="#000" stroke-width="0.2">=</text>
<text transform="translate(439.83 783.95) scale(1.1200 1.0526)" font-size="27" letter-spacing="0.706">10</text>
<text transform="translate(473.64 775.75) scale(1.0867 1.0025)" font-size="16.5" stroke="#000" stroke-width="0.3">10</text>
<text transform="translate(507.23 783.95) scale(0.7675 1.0687)" font-size="27" stroke="#000" stroke-width="0.35">M</text>
<text transform="translate(542.10 782.53) scale(1.0541 1.1152)" font-size="27">)</text>
<text transform="translate(469.28 83.94) scale(1.0458 1.1481)" font-size="27">(</text>
<text transform="translate(480.68 84.67) scale(1.2377 1.0340)" font-size="27" stroke="#fff" stroke-width="0.19">a</text>
<text transform="translate(498.37 83.94) scale(0.9687 1.1481)" font-size="27">)</text>
<text transform="translate(656.10 538.64) scale(1.0312 1.1481)" font-size="27">(</text>
<text transform="translate(670.45 539.37) scale(0.9742 1.0349)" font-size="27">b</text>
<text transform="translate(686.17 538.64) scale(1.0826 1.1481)" font-size="27">)</text>
<text transform="translate(609.87 82.35) scale(1.0494 0.9742)" font-size="27">x</text>
<text transform="translate(625.63 89.85) scale(0.9048 0.9870)" font-size="17.5" stroke="#000" stroke-width="0.3">i</text>
<text transform="translate(632.63 83.42) scale(1.2027 0.9826)" font-size="27" stroke="#000" stroke-width="0.2">=</text>
<text transform="translate(656.09 82.35) scale(0.8466 1.0606)" font-size="27" stroke="#000" stroke-width="0.23">1</text>
<text transform="translate(609.87 122.55) scale(1.0494 0.9742)" font-size="27">x</text>
<text transform="translate(625.63 130.05) scale(0.9048 0.9870)" font-size="17.5" stroke="#000" stroke-width="0.3">i</text>
<text transform="translate(632.63 123.62) scale(1.2027 0.9826)" font-size="27" stroke="#000" stroke-width="0.2">=</text>
<text transform="translate(654.14 122.55) scale(1.1200 1.0526)" font-size="27" letter-spacing="1.637">0.75</text>
<text transform="translate(609.87 162.65) scale(1.0494 0.9742)" font-size="27">x</text>
<text transform="translate(625.63 170.15) scale(0.9048 0.9870)" font-size="17.5" stroke="#000" stroke-width="0.3">i</text>
<text transform="translate(632.63 163.72) scale(1.2027 0.9826)" font-size="27" stroke="#000" stroke-width="0.2">=</text>
<text transform="translate(654.14 162.65) scale(1.1200 1.0526)" font-size="27" letter-spacing="1.437">0.5</text>
<text transform="translate(609.87 202.65) scale(1.0494 0.9742)" font-size="27">x</text>
<text transform="translate(625.63 210.15) scale(0.9048 0.9870)" font-size="17.5" stroke="#000" stroke-width="0.3">i</text>
<text transform="translate(632.63 203.72) scale(1.2027 0.9826)" font-size="27" stroke="#000" stroke-width="0.2">=</text>
<text transform="translate(654.14 202.65) scale(1.1200 1.0526)" font-size="27" letter-spacing="1.637">0.25</text>
<text transform="translate(609.22 246.76) scale(0.7697 1.0669)" font-size="27" stroke="#000" stroke-width="0.35">O</text>
<text transform="translate(626.65 246.77) scale(1.1514 1.0454)" font-size="27">b</text>
<text transform="translate(643.56 246.78) scale(1.4697 0.9877)" font-size="27" stroke="#fff" stroke-width="0.40">s</text>
<text transform="translate(674.23 246.75) scale(1.0114 1.0630)" font-size="27">L</text>
<text transform="translate(691.12 246.75) scale(0.9877 1.0887)" font-size="27">i</text>
<text transform="translate(699.80 246.75) scale(1.1962 0.9850)" font-size="27" stroke="#fff" stroke-width="0.12">m</text>
</g><g id="tv">
<text transform="rotate(-90) translate(-369.03 26.75) scale(1.1514 1.0087)" font-size="27">n</text>
<text transform="rotate(-90) translate(-350.65 25.70) scale(0.9877 1.1193)" font-size="27">(</text>
<text transform="rotate(-90) translate(-338.11 30.07) scale(1.0832 1.2943)" font-size="27">&gt;</text>
<text transform="rotate(-90) translate(-317.75 26.75) scale(0.8618 1.0574)" font-size="27" stroke="#000" stroke-width="0.21">L</text>
<text transform="rotate(-90) translate(-302.85 25.70) scale(0.9829 1.1193)" font-size="27">)</text>
<text transform="rotate(-90) translate(-277.19 25.70) scale(1.1038 1.1193)" font-size="27">(</text>
<text transform="rotate(-90) translate(-264.43 26.75) scale(0.8434 1.0348)" font-size="27" stroke="#000" stroke-width="0.23">M</text>
<text transform="rotate(-90) translate(-242.41 27.07) scale(1.1319 1.0022)" font-size="27">p</text>
<text transform="rotate(-90) translate(-227.28 26.68) scale(1.0469 0.9877)" font-size="27">c</text>
<text transform="rotate(-90) translate(-211.17 16.47) scale(0.6053 0.5761)" font-size="27" stroke="#000" stroke-width="0.2">−</text>
<text transform="rotate(-90) translate(-199.36 18.28) scale(1.3452 1.0403)" font-size="16.5" stroke="#000" stroke-width="0.3">3</text>
<text transform="rotate(-90) translate(-187.13 25.70) scale(1.0826 1.1193)" font-size="27">)</text>
<text transform="rotate(-90) translate(-643.13 32.85) scale(0.8341 1.0574)" font-size="27" stroke="#000" stroke-width="0.25">R</text>
<text transform="rotate(-90) translate(-628.08 32.79) scale(1.4065 0.9722)" font-size="27" stroke="#fff" stroke-width="0.40">a</text>
<text transform="rotate(-90) translate(-610.16 32.75) scale(1.1538 1.0981)" font-size="27">t</text>
<text transform="rotate(-90) translate(-599.22 32.85) scale(1.2500 1.0606)" font-size="27" stroke="#fff" stroke-width="0.21">i</text>
<text transform="rotate(-90) translate(-586.00 32.88) scale(1.1552 0.9877)" font-size="27">o</text>
</g>
</g>
<g fill="none" stroke="#000" stroke-width="1.3"><circle cx="534.4" cy="785.5" r="5.6"/><circle cx="534.4" cy="785.5" r="0.7"/>
<path d="M608.5 65.6H624.6"/>
<path d="M608.5 105.8H624.6"/>
<path d="M608.5 145.9H624.6"/>
<path d="M608.5 185.9H624.6"/>
</g>
</svg>
</body></html>
